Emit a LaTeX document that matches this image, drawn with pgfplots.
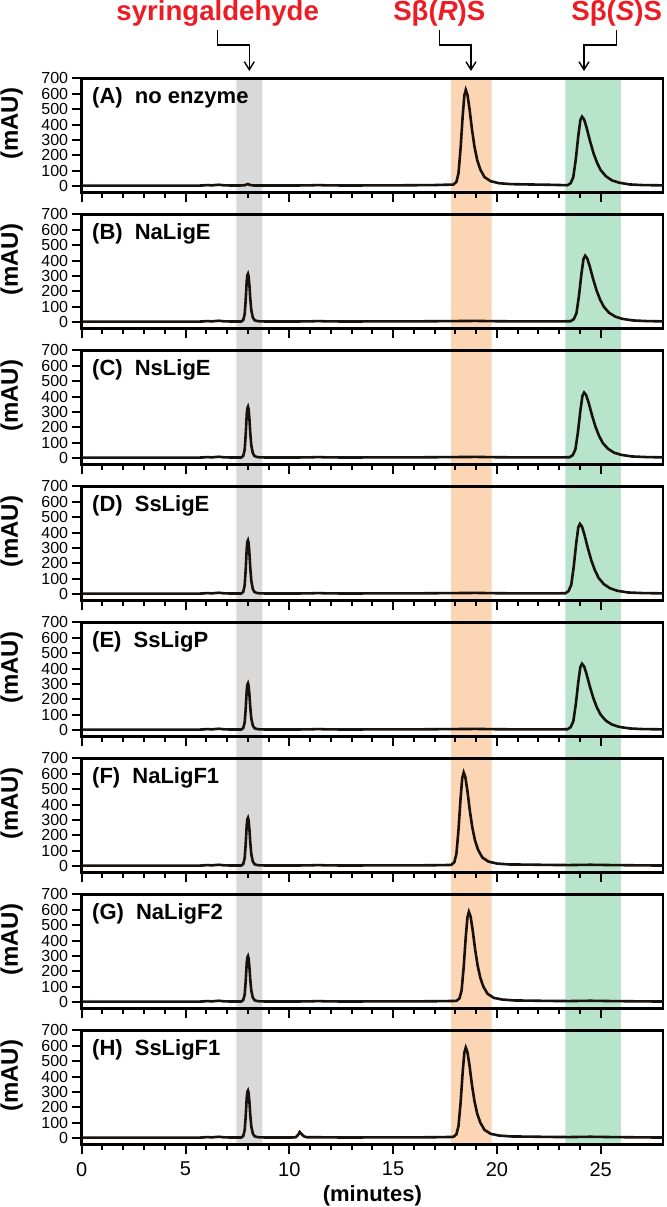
\documentclass[border=0pt]{standalone}
\usepackage{pgfplots}
\pgfplotsset{compat=1.18}
\usepackage{fontspec}
\setmainfont{Liberation Sans}
\usetikzlibrary{arrows.meta,calc}
\definecolor{bandgray}{RGB}{217,217,217}
\definecolor{bandorange}{RGB}{252,213,181}
\definecolor{bandgreen}{RGB}{184,228,204}
\definecolor{annred}{RGB}{237,28,36}
\definecolor{trace}{RGB}{25,18,12}

\pgfplotsset{
 panel/.style={
  scale only axis, width=290.65pt, height=57pt,
  xmin=0,xmax=28,ymin=-40,ymax=700,
  anchor=north west,
  line width=1.2pt,
  axis line style={line width=1.2pt},
  tick style={line width=1pt,black},
  tick align=outside,
  xtick={0,5,...,25}, minor x tick num=4,
  major tick length=5pt, minor tick length=3pt,
  xtick pos=left, ytick pos=left,
  ytick={0,100,...,700},
  xticklabels={},
  /pgf/number format/assume math mode=true,
  yticklabel style={font=\fontsize{8}{8}\selectfont, inner sep=1.2pt},
  ylabel={(mAU)},
  ylabel style={at={(axis description cs:-0.1204,0.6)}, anchor=center, font=\bfseries\fontsize{12}{12}\selectfont},
  cycle list={{trace, mark=none, line width=1.3pt, line join=round, smooth}},
  every axis plot/.append style={line width=1.3pt},
 },
}
\tikzset{plab/.style={anchor=west, inner sep=0pt, xshift=4.65pt, yshift=-9.6pt, font=\bfseries\fontsize{11}{11}\selectfont}}

\begin{document}
\begin{tikzpicture}
\path[use as bounding box] (-40.85pt,39.15pt) rectangle (292.15pt,-564.35pt);

% background bands
\begin{axis}[scale only axis, width=290.65pt, height=533pt, at={(0pt,0pt)}, anchor=north west,
  xmin=0,xmax=28,ymin=0,ymax=1, hide axis]
\addplot[fill=bandgray, draw=none] coordinates {(7.45,0)(7.45,1)(8.7,1)(8.7,0)} \closedcycle;
\addplot[fill=bandorange, draw=none] coordinates {(17.8,0)(17.8,1)(19.75,1)(19.75,0)} \closedcycle;
\addplot[fill=bandgreen, draw=none] coordinates {(23.3,0)(23.3,1)(25.97,1)(25.97,0)} \closedcycle;
\end{axis}

% (A)
\begin{axis}[panel, at={(0pt,0pt)}]
\addplot coordinates {(0,3) (1,3) (2,3) (3,3) (4,3) (5,3) (5.8,4) (6.05,7) (6.25,5) (6.6,9) (6.75,7) (6.9,5) (7.3,4) (7.6,4) (7.85,6) (8.0,14) (8.12,7) (8.3,4) (9,4) (10,4) (11,5) (11.4,7) (11.8,5) (13,4) (14,5) (15,5) (16,6) (17,7) (17.5,9)
 (17.9,10) (18.05,28) (18.15,84) (18.25,244) (18.35,453) (18.43,588) (18.5,625) (18.58,594) (18.68,502) (18.8,367) (18.92,256) (19.05,170) (19.2,108) (19.4,59) (19.7,32) (20.1,19) (20.7,13)
 (21.5,11) (22.5,9) (23.1,7)
 (23.4,6) (23.55,19) (23.68,59) (23.8,175) (23.92,326) (24.02,429) (24.1,451) (24.2,433) (24.32,380) (24.48,295) (24.65,215) (24.82,153) (25.0,104) (25.25,64) (25.55,37) (25.9,22) (26.4,11)
 (27,7) (28,5)};
\node[plab] at (rel axis cs:0,1) {(A)\hspace{0.55em}no enzyme};
\end{axis}

% (B)
\begin{axis}[panel, at={(0pt,-68pt)}]
\addplot coordinates {(0,3) (1,3) (2,3) (3,3) (4,3) (5,3) (5.8,4) (6.05,7) (6.25,5) (6.6,9) (6.75,7) (6.9,5) (7.3,4)
 (7.68,4) (7.78,13) (7.85,50) (7.9,144) (7.95,268) (7.98,305) (8.01,314) (8.04,299) (8.08,237) (8.12,153) (8.17,78) (8.24,32) (8.32,13) (8.45,7)
 (8.6,5) (9,4) (10,4) (11,5) (11.4,7) (11.8,5) (13,4) (14,5) (15,5) (16,5) (17,6) (18,7) (19,8) (20,6) (21,5) (22,5) (23,5)
 (23.55,6) (23.7,19) (23.83,57) (23.95,168) (24.07,312) (24.17,410) (24.25,431) (24.35,414) (24.47,363) (24.63,282) (24.8,206) (24.97,146) (25.15,100) (25.4,61) (25.7,36) (26.05,21) (26.55,11)
 (27.2,7) (28,5)};
\node[plab] at (rel axis cs:0,1) {(B)\hspace{0.55em}NaLigE};
\end{axis}

% (C)
\begin{axis}[panel, at={(0pt,-136pt)}]
\addplot coordinates {(0,3) (1,3) (2,3) (3,3) (4,3) (5,3) (5.8,4) (6.05,7) (6.25,5) (6.6,9) (6.75,7) (6.9,5) (7.3,4)
 (7.68,4) (7.78,14) (7.85,54) (7.9,153) (7.95,285) (7.98,324) (8.01,334) (8.04,318) (8.08,252) (8.12,162) (8.17,83) (8.24,34) (8.32,14) (8.45,7)
 (8.6,5) (9,4) (10,4) (11,5) (11.4,7) (11.8,5) (13,4) (14,5) (15,5) (16,5) (17,6) (18,7) (19,8) (20,6) (21,5) (22,5) (23,5)
 (23.5,6) (23.65,19) (23.78,56) (23.9,166) (24.02,308) (24.12,405) (24.2,426) (24.3,409) (24.42,359) (24.58,279) (24.75,203) (24.92,145) (25.1,98) (25.35,61) (25.65,35) (26.0,21) (26.5,11)
 (27.2,7) (28,5)};
\node[plab] at (rel axis cs:0,1) {(C)\hspace{0.55em}NsLigE};
\end{axis}

% (D)
\begin{axis}[panel, at={(0pt,-204pt)}]
\addplot coordinates {(0,3) (1,3) (2,3) (3,3) (4,3) (5,3) (5.8,4) (6.05,7) (6.25,5) (6.6,9) (6.75,7) (6.9,5) (7.3,4)
 (7.68,4) (7.78,14) (7.85,56) (7.9,159) (7.95,297) (7.98,339) (8.01,349) (8.04,332) (8.08,263) (8.12,170) (8.17,87) (8.24,35) (8.32,14) (8.45,7)
 (8.6,5) (9,4) (10,4) (11,5) (11.4,7) (11.8,5) (13,4) (14,5) (15,5) (16,5) (17,6) (18,7) (19,8) (20,6) (21,5) (22,5) (22.8,5)
 (23.3,6) (23.45,20) (23.58,60) (23.7,177) (23.82,330) (23.92,434) (24.0,456) (24.1,438) (24.22,384) (24.38,299) (24.55,218) (24.72,155) (24.9,105) (25.15,65) (25.45,38) (25.8,22) (26.3,11)
 (27,7) (28,5)};
\node[plab] at (rel axis cs:0,1) {(D)\hspace{0.55em}SsLigE};
\end{axis}

% (E)
\begin{axis}[panel, at={(0pt,-272pt)}]
\addplot coordinates {(0,3) (1,3) (2,3) (3,3) (4,3) (5,3) (5.8,4) (6.05,7) (6.25,5) (6.6,9) (6.75,7) (6.9,5) (7.3,4)
 (7.68,4) (7.78,13) (7.85,49) (7.9,139) (7.95,259) (7.98,295) (8.01,304) (8.04,289) (8.08,229) (8.12,148) (8.17,76) (8.24,31) (8.32,13) (8.45,7)
 (8.6,5) (9,4) (10,4) (11,5) (11.4,7) (11.8,5) (13,4) (14,5) (15,5) (16,5) (17,6) (18,7) (19,8) (20,6) (21,5) (22,5) (23,5)
 (23.4,6) (23.55,19) (23.68,57) (23.8,168) (23.92,312) (24.02,410) (24.1,431) (24.2,414) (24.32,363) (24.48,282) (24.65,206) (24.82,146) (25.0,100) (25.25,61) (25.55,36) (25.9,21) (26.4,11)
 (27,7) (28,5)};
\node[plab] at (rel axis cs:0,1) {(E)\hspace{0.55em}SsLigP};
\end{axis}

% (F)
\begin{axis}[panel, at={(0pt,-340pt)}]
\addplot coordinates {(0,3) (1,3) (2,3) (3,3) (4,3) (5,3) (5.8,4) (6.05,7) (6.25,5) (6.6,9) (6.75,7) (6.9,5) (7.3,4)
 (7.68,4) (7.78,13) (7.85,50) (7.9,144) (7.95,268) (7.98,305) (8.01,314) (8.04,299) (8.08,237) (8.12,153) (8.17,78) (8.24,32) (8.32,13) (8.45,7)
 (8.6,5) (9,4) (10,4) (11,5) (11.4,7) (11.8,5) (13,4) (14,5) (15,5) (16,5) (17,6) (17.5,7)
 (17.8,8) (17.95,26) (18.05,80) (18.15,236) (18.25,440) (18.33,572) (18.4,608) (18.48,578) (18.58,488) (18.7,356) (18.82,248) (18.95,164) (19.1,104) (19.3,56) (19.6,29) (20.0,17) (20.6,11)
 (21.5,10) (22.5,8) (23.5,7) (24.5,9) (25.5,7) (27,5) (28,4)};
\node[plab] at (rel axis cs:0,1) {(F)\hspace{0.55em}NaLigF1};
\end{axis}

% (G)
\begin{axis}[panel, at={(0pt,-408pt)}]
\addplot coordinates {(0,3) (1,3) (2,3) (3,3) (4,3) (5,3) (5.8,4) (6.05,7) (6.25,5) (6.6,9) (6.75,7) (6.9,5) (7.3,4)
 (7.68,4) (7.78,13) (7.85,48) (7.9,137) (7.95,255) (7.98,290) (8.01,299) (8.04,284) (8.08,225) (8.12,146) (8.17,75) (8.24,31) (8.32,13) (8.45,7)
 (8.6,5) (9,4) (10,4) (11,5) (11.4,7) (11.8,5) (13,4) (14,5) (15,5) (16,5) (17,6) (17.6,7)
 (18.05,8) (18.2,25) (18.3,77) (18.4,228) (18.5,424) (18.58,551) (18.65,586) (18.73,557) (18.83,470) (18.95,343) (19.07,239) (19.2,158) (19.35,100) (19.55,54) (19.85,28) (20.25,17) (20.85,11)
 (21.5,10) (22.5,8) (23.5,7) (24.5,9) (25.5,7) (27,5) (28,4)};
\node[plab] at (rel axis cs:0,1) {(G)\hspace{0.55em}NaLigF2};
\end{axis}

% (H)
\begin{axis}[panel, at={(0pt,-476pt)},
  xticklabels={0,5,10,15,20,25},
  xticklabel style={font=\fontsize{10}{10}\selectfont},
  xlabel={(minutes)},
  xlabel style={font=\bfseries\fontsize{11}{11}\selectfont, at={(axis description cs:0.5,0)}, anchor=center, yshift=-25.5pt}]
\addplot coordinates {(0,3) (1,3) (2,3) (3,3) (4,3) (5,3) (5.8,4) (6.05,7) (6.25,5) (6.6,9) (6.75,7) (6.9,5) (7.3,4)
 (7.68,4) (7.78,13) (7.85,50) (7.9,141) (7.95,263) (7.98,300) (8.01,309) (8.04,294) (8.08,233) (8.12,150) (8.17,77) (8.24,31) (8.32,13) (8.45,7)
 (8.6,5) (9,4) (10,4) (10.3,5) (10.42,20) (10.5,40) (10.58,28) (10.7,12) (10.85,6) (11.4,6) (11.8,5) (13,4) (14,5) (15,5) (16,5) (17,6) (17.5,7)
 (17.9,8) (18.05,25) (18.15,78) (18.25,228) (18.35,426) (18.43,553) (18.5,588) (18.58,559) (18.68,472) (18.8,344) (18.92,240) (19.05,159) (19.2,101) (19.4,54) (19.7,28) (20.1,17) (20.7,11)
 (21.5,10) (22.5,8) (23.5,7) (24.5,9) (25.5,7) (27,5) (28,4)};
\node[plab] at (rel axis cs:0,1) {(H)\hspace{0.55em}SsLigF1};
\end{axis}

% annotations
\begin{scope}[font=\bfseries\fontsize{13.8}{14}\selectfont]
\node[anchor=base, text=annred, inner sep=0pt] at (68pt,29.15pt) {syringaldehyde};
\node[anchor=base, text=annred, inner sep=0pt] at (178.8pt,29.15pt) {Sβ(\textit{R})S};
\node[anchor=base, text=annred, inner sep=0pt] at (267.5pt,29.15pt) {Sβ(\textit{S})S};
\end{scope}
\begin{scope}[line width=0.7pt, -{Straight Barb[length=4pt,width=5pt]}]
\draw (68pt,24.15pt) -- (68pt,16.65pt) -- (83.8pt,16.65pt) -- (83.8pt,3.65pt);
\draw (178.8pt,24.15pt) -- (178.8pt,16.65pt) -- (194.65pt,16.65pt) -- (194.65pt,3.65pt);
\draw (267.5pt,24.15pt) -- (267.5pt,16.65pt) -- (251.15pt,16.65pt) -- (251.15pt,3.65pt);
\end{scope}
\end{tikzpicture}
\end{document}
